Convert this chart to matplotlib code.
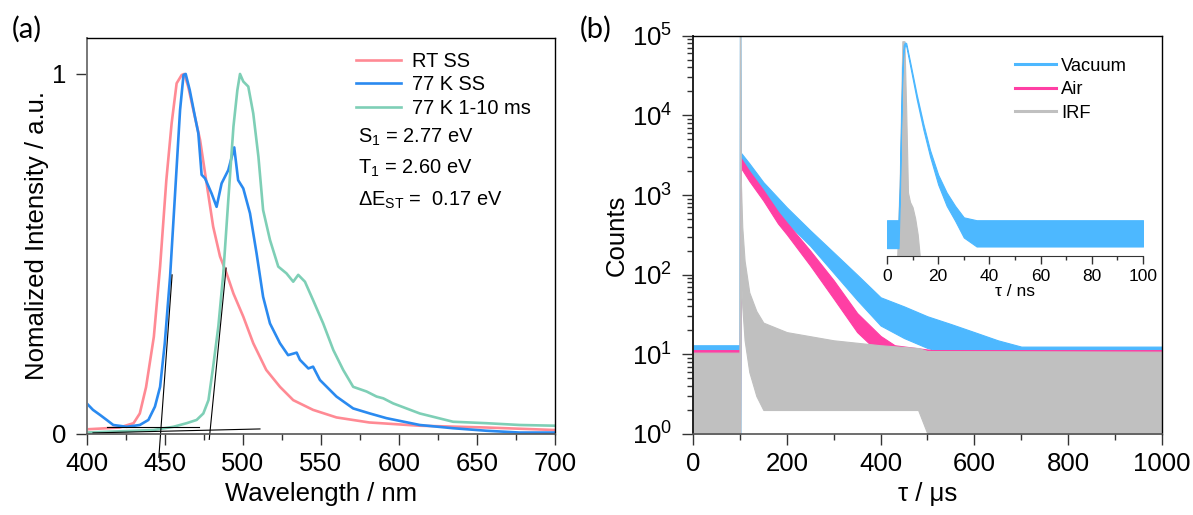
import matplotlib
matplotlib.use("Agg")
import matplotlib.pyplot as plt
from matplotlib.ticker import MultipleLocator, LogLocator, NullFormatter, NullLocator

FAM = ['Liberation Sans', 'DejaVu Sans']
plt.rcParams['font.family'] = 'sans-serif'
plt.rcParams['font.sans-serif'] = ['Liberation Sans', 'DejaVu Sans']
plt.rcParams['mathtext.fontset'] = 'custom'
plt.rcParams['mathtext.rm'] = 'Liberation Sans'
plt.rcParams['mathtext.it'] = 'Liberation Sans:italic'
plt.rcParams['mathtext.bf'] = 'Liberation Sans:bold'
plt.rcParams['mathtext.sf'] = 'Liberation Sans'
plt.rcParams['mathtext.default'] = 'regular'

# ---------------- Panel (a) data: normalized PL spectra ----------------
rt_wl = [400, 421, 430, 434, 438, 443, 447, 451, 454.4, 457.6, 460.8, 462.5, 465, 468.3,
         472.6, 476.8, 481, 485.4, 489.6, 494, 500.3, 506.7, 515, 523.8, 532.3, 545,
         560, 581, 613, 656, 700]
rt_int = [0.013, 0.018, 0.03, 0.057, 0.13, 0.27, 0.465, 0.705, 0.863, 0.974, 0.997, 1.0,
          0.965, 0.9, 0.817, 0.696, 0.576, 0.493, 0.446, 0.39, 0.326, 0.252, 0.178,
          0.131, 0.094, 0.067, 0.046, 0.032, 0.023, 0.018, 0.011]

ss77_wl = [400, 404, 408.5, 412.8, 417, 425.6, 434, 439.5, 443.7, 447, 450, 453.4, 456.6,
           459.8, 462, 463.4, 466, 469.4, 471.5, 473.6, 475.8, 480, 483.2, 486.4, 490.7,
           494.5, 497, 500.3, 504.6, 508.8, 513, 517.4, 523.8, 529, 534.5, 536.6, 542,
           545, 549.4, 560, 570.7, 581.4, 592, 613.4, 634.7, 656, 677.4, 700]
ss77_int = [0.085, 0.067, 0.053, 0.039, 0.025, 0.02, 0.025, 0.039, 0.076, 0.131, 0.252,
            0.437, 0.668, 0.9, 0.997, 1.0, 0.955, 0.88, 0.835, 0.72, 0.71, 0.668, 0.631,
            0.696, 0.733, 0.796, 0.705, 0.682, 0.613, 0.502, 0.381, 0.307, 0.252, 0.219,
            0.226, 0.206, 0.182, 0.187, 0.15, 0.104, 0.071, 0.057, 0.044, 0.025, 0.016,
            0.009, 0.004, 0.004]

ph77_wl = [400, 442.7, 455.5, 464, 470.4, 474.7, 478, 481, 484.3, 487.5, 490.7, 494,
           496.5, 498.2, 500.3, 503.5, 506.7, 510, 513, 517.4, 522.7, 528, 532.3, 535.5,
           539.8, 545, 551.5, 558, 564.3, 570.7, 579.3, 585.7, 590, 596.3, 613.4, 634.7,
           656, 677.4, 700]
ph77_int = [0.004, 0.011, 0.02, 0.03, 0.039, 0.057, 0.094, 0.187, 0.298, 0.446, 0.65,
            0.854, 0.955, 1.0, 0.979, 0.965, 0.89, 0.77, 0.622, 0.539, 0.465, 0.446,
            0.423, 0.442, 0.423, 0.372, 0.307, 0.233, 0.178, 0.131, 0.118, 0.104, 0.099,
            0.085, 0.057, 0.034, 0.03, 0.025, 0.023]

# onset tangent lines
tan_s1_x = [446.2, 454.7]
tan_s1_y = [-0.065, 0.442]
base_s1_x = [413, 472]
base_s1_y = [0.02, 0.02]
base_t1_x = [404, 511]
base_t1_y = [0.003, 0.014]
tan_t1_x = [478.5, 489.3]
tan_t1_y = [-0.015, 0.461]

labels_a = ['RT SS', '77 K SS', '77 K 1-10 ms']
colors_a = ['#ff8a94', '#2a8af0', '#7ecfb6']
energy_texts = ['S$_1$ = 2.77 eV', 'T$_1$ = 2.60 eV', '$\\Delta$E$_{ST}$ =  0.17 eV']

# ---------------- Panel (b) data: transient decay envelopes (counts) ----------------
vac_t = [0, 99, 100, 101, 102, 120, 150, 200, 250, 300, 350, 400, 450, 500, 550, 600, 650, 700, 1000]
vac_hi = [13, 13, 1e5, 1e5, 3400, 2500, 1450, 700, 360, 190, 100, 52, 40, 30, 24, 19, 15, 12.5, 12.5]
vac_lo = [1, 1, 1, 1, 2700, 1900, 1050, 450, 230, 105, 48, 23, 16, 12, 10, 9, 1, 1, 1]

air_t = [0, 99, 100, 102, 120, 150, 181, 200, 250, 300, 350, 400, 430, 500, 510, 1000]
air_hi = [11.3, 11.3, 11.3, 2900, 2000, 1150, 620, 450, 200, 85, 33, 17, 13, 11.5, 11.3, 11.3]
air_lo = [1, 1, 1, 2200, 1500, 850, 440, 320, 130, 50, 19, 10, 8, 8, 1, 1]

irf_t = [0, 99, 100, 101, 102, 105, 110, 120, 135, 150, 200, 300, 400, 480, 500, 1000]
irf_hi = [10.5, 10.5, 1e5, 1e5, 1500, 400, 150, 60, 35, 25, 19, 15, 13, 12, 11, 10.8]
irf_lo = [1, 1, 1, 1, 100, 40, 15, 6, 3, 2, 2, 2, 2, 2, 1, 1]

# inset (ns)
ins_vac_t = [0, 4.5, 5.0, 5.5, 6.0, 6.5, 7.0, 7.5, 9.0, 11.6, 14.2, 16.8, 20.0, 23.3, 26.6, 30, 35, 100]
ins_vac_hi = [4.6, 4.6, 20, 300, 3000, 8000, 9000, 8800, 4000, 980, 280, 92, 32, 15, 8.5, 5.2, 4.6, 4.6]
ins_vac_lo = [1.4, 1.4, 10, 200, 2200, 6500, 8000, 7800, 3400, 800, 220, 70, 21, 8.5, 4.5, 2.2, 1.5, 1.5]
ins_irf_t = [4.0, 5.0, 6.0, 6.8, 7.5, 8.2, 9.0, 10.0, 11.0, 12.0, 12.8]
ins_irf_hi = [1, 30, 9500, 9500, 500, 15, 10, 8, 5, 2.5, 1]
ins_irf_lo = [1, 1, 1, 1, 1, 1, 1, 1, 1, 1, 1]

labels_b = ['Vacuum', 'Air', 'IRF']
colors_b = ['#4db8ff', '#ff3fa4', '#c0c0c0']

# ---------------- figure ----------------
fig = plt.figure(figsize=(11.93, 5.15), dpi=100)

TICK_FS = 18.5
LABEL_FS = 18.5


def style_axes(ax):
    for side in ['top', 'right']:
        ax.spines[side].set_color('black')
        ax.spines[side].set_linewidth(1.0)
    ax.spines['left'].set_color('#777777')
    ax.spines['left'].set_linewidth(1.4)
    ax.spines['bottom'].set_color('#555555')
    ax.spines['bottom'].set_linewidth(1.2)
    ax.tick_params(which='major', direction='out', length=8, width=1.0, color='#333333',
                   labelsize=TICK_FS, pad=5, labelfontfamily='Liberation Sans')
    ax.tick_params(which='minor', direction='out', length=4, width=1.0, color='#333333')
    ax.tick_params(axis='y', which='major', pad=7)


# Panel (a)
axA = fig.add_axes([0.0727, 0.1573, 0.3925, 0.769])
for wl, it, lab, c in zip([rt_wl, ss77_wl, ph77_wl], [rt_int, ss77_int, ph77_int], labels_a, colors_a):
    axA.plot(wl, it, color=c, lw=1.9, label=lab)
for xs, ys in [(tan_s1_x, tan_s1_y), (base_s1_x, base_s1_y), (base_t1_x, base_t1_y), (tan_t1_x, tan_t1_y)]:
    axA.plot(xs, ys, color='black', lw=0.8, clip_on=False)
axA.set_xlim(400, 700)
axA.set_ylim(0, 1.1)
axA.set_yticks([0, 1])
axA.set_yticklabels(['0', '1'])
axA.xaxis.set_major_locator(MultipleLocator(50))
axA.xaxis.set_minor_locator(MultipleLocator(25))
style_axes(axA)
axA.set_xlabel('Wavelength / nm', fontsize=LABEL_FS, labelpad=4, fontfamily=FAM)
axA.set_ylabel('Nomalized Intensity / a.u.', fontsize=LABEL_FS, labelpad=2, fontfamily=FAM)
legA = axA.legend(loc='upper left', bbox_to_anchor=(0.575, 0.965), frameon=False,
                  prop={'family': FAM, 'size': 14.4}, handlelength=2.25, handletextpad=0.55,
                  labelspacing=0.22, borderpad=0, borderaxespad=0)
for i, t in enumerate(energy_texts):
    axA.text(0.58, 0.75 - i * 0.08, t, transform=axA.transAxes, fontsize=14.4,
             va='center', ha='left', fontfamily=FAM)

# Panel (b)
axB = fig.add_axes([0.5809, 0.1573, 0.3931, 0.7734])
for t, hi, lo, c, lab in zip([vac_t, air_t, irf_t], [vac_hi, air_hi, irf_hi],
                             [vac_lo, air_lo, irf_lo], colors_b, labels_b):
    axB.fill_between(t, lo, hi, color=c, lw=0.8, edgecolor=c)
    axB.plot([], [], color=c, lw=2.2, label=lab)
axB.set_yscale('log')
axB.set_xlim(0, 1000)
axB.set_ylim(1, 1e5)
axB.xaxis.set_major_locator(MultipleLocator(200))
axB.xaxis.set_minor_locator(MultipleLocator(100))
axB.yaxis.set_major_locator(LogLocator(base=10, numticks=10))
axB.yaxis.set_minor_locator(LogLocator(base=10, subs=range(2, 10), numticks=10))
axB.yaxis.set_minor_formatter(NullFormatter())
style_axes(axB)
axB.spines['left'].set_color('#222222')
axB.set_xlabel('τ / μs', fontsize=LABEL_FS, labelpad=4, fontfamily=FAM)
axB.set_ylabel('Counts', fontsize=LABEL_FS, labelpad=2, fontfamily=FAM)
legB = axB.legend(loc='upper left', bbox_to_anchor=(0.687, 0.945), frameon=False,
                  prop={'family': FAM, 'size': 13.2}, handlelength=2.2, handletextpad=0.3,
                  labelspacing=0.36, borderpad=0, borderaxespad=0)

# Inset
axI = fig.add_axes([0.7435, 0.5029, 0.2146, 0.4194])
axI.set_facecolor('none')
axI.fill_between(ins_irf_t, ins_irf_lo, ins_irf_hi, color=colors_b[2], lw=0.8, edgecolor=colors_b[2])
axI.fill_between(ins_vac_t, ins_vac_lo, ins_vac_hi, color=colors_b[0], lw=0.8, edgecolor=colors_b[0])
axI.set_yscale('log')
axI.set_ylim(1, 1e4)
axI.set_xlim(0, 100)
for side in ['top', 'right', 'left']:
    axI.spines[side].set_visible(False)
axI.spines['bottom'].set_color('#333333')
axI.yaxis.set_major_locator(NullLocator())
axI.yaxis.set_minor_locator(NullLocator())
axI.xaxis.set_major_locator(MultipleLocator(20))
axI.xaxis.set_minor_locator(MultipleLocator(10))
axI.tick_params(which='major', direction='out', length=6, width=1.0, color='#333333',
                labelsize=12.5, pad=3, labelfontfamily='Liberation Sans')
axI.tick_params(which='minor', direction='out', length=3, width=1.0, color='#333333')
axI.set_xlabel('τ / ns', fontsize=12.5, labelpad=0, fontfamily=FAM)

# Panel labels
fig.text(12 / 1193, 1 - 29 / 515, '(a)', fontsize=21, fontfamily=['Lato', 'DejaVu Sans'], va='center', ha='left')
fig.text(580 / 1193, 1 - 29 / 515, '(b)', fontsize=21, fontfamily=['Lato', 'DejaVu Sans'], va='center', ha='left')

fig.savefig('out.png', dpi=100)
